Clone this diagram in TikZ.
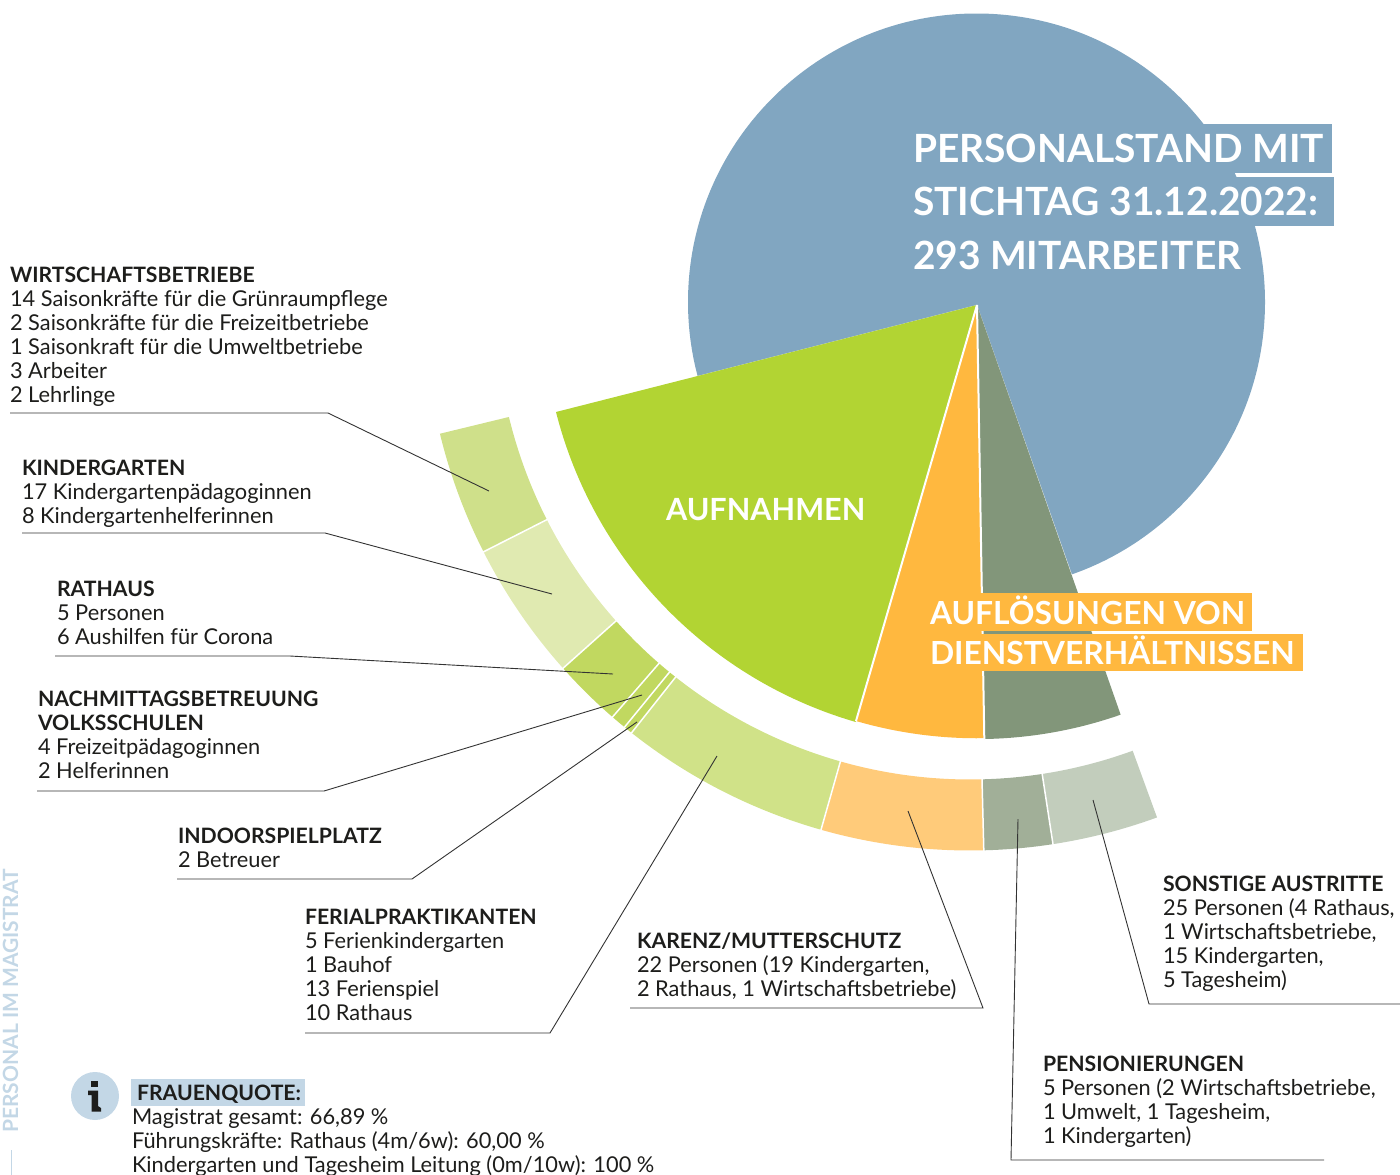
\documentclass[tikz,border=0pt]{standalone}
\usepackage{fontspec}
\usetikzlibrary{calc}
\setmainfont{Lato}
\definecolor{cblue}{HTML}{81A6C1}
\definecolor{cgreen}{HTML}{B2D433}
\definecolor{corange}{HTML}{FFB83F}
\definecolor{cdark}{HTML}{82967A}
\definecolor{rwirt}{HTML}{CFE08A}
\definecolor{rkind}{HTML}{E0EAB1}
\definecolor{rrath}{HTML}{C1D860}
\definecolor{rferi}{HTML}{D0E288}
\definecolor{rkare}{HTML}{FFCB7A}
\definecolor{rpens}{HTML}{A1AF98}
\definecolor{rsons}{HTML}{C2CDBC}
\definecolor{cinfo}{HTML}{C3D7E6}
\definecolor{ctext}{HTML}{1D1D1B}
\tikzset{
  lbl/.style={inner sep=0pt,outer sep=0pt,anchor=north west,align=left,text=ctext,font=\fontsize{21.8}{24}\selectfont},
  leader/.style={draw=black!80,line width=0.9pt},
  title/.style={inner sep=0pt,outer sep=0pt,anchor=north west,align=left,text=white},
}
\newcommand{\hd}[1]{{\fontsize{21.2}{24}\selectfont\bfseries #1}}
\begin{document}
\begin{tikzpicture}[x=1pt,y=-1pt]
\useasboundingbox (0,0) rectangle (1400,1175);
% big blue disc
\fill[cblue] (976.5,302) circle[radius=288.5];
% highlight boxes of title
\fill[cblue] (910,123.5) rectangle (1332,172.8);
\fill[cblue] (910,177) rectangle (1334,226);
% wedges
\fill[white] (977,305) -- (556,412) arc[start angle=165.75,end angle=70.7,radius=434] -- (1121,714) -- cycle;
\fill[cgreen] (977,305) -- (556,412) arc[start angle=165.75,end angle=106.2,radius=434] -- cycle;
\fill[corange] (977,305) -- (856,721) arc[start angle=106.2,end angle=89.1,radius=434] -- cycle;
\fill[cdark] (977,305) -- (984,739) arc[start angle=89.1,end angle=70.7,radius=434] -- cycle;
\draw[white,line width=2pt] (977,305) -- (856,721);
\draw[white,line width=2pt] (977,305) -- (984.3,739);
% ring segments
\foreach \a/\b/\c in {193.65/206.9/rwirt,206.9/221.75/rkind,221.75/229.05/rrath,229.05/230.7/rrath,230.7/231.65/rrath,231.65/254.15/rferi,254.15/271.45/rkare,271.45/278.75/rpens,278.75/290.05/rsons}{
  \pgfmathsetmacro{\pa}{360-\a}\pgfmathsetmacro{\pb}{360-\b}
  \fill[\c] ($(970,305)+(\pa:474.5)$) arc[start angle=\pa,end angle=\pb,radius=474.5]
     -- ($(970,305)+(\pb:545.5)$) arc[start angle=\pb,end angle=\pa,radius=545.5] -- cycle;
}
\foreach \a in {206.9,221.75,229.05,230.7,231.65,254.15,271.45,278.75}{
  \pgfmathsetmacro{\pa}{360-\a}
  \draw[white,line width=1.5pt] ($(970,305)+(\pa:473)$) -- ($(970,305)+(\pa:547)$);
}
% highlight boxes of exit label
\fill[corange] (926,593.3) rectangle (1252,631);
\fill[corange] (926,633.7) rectangle (1303,670.7);
\fill[cinfo] (131,1079) rectangle (305,1106);
% titles
\node[title,font=\fontsize{38.9}{53.5}\selectfont\bfseries] (ttl) at (913,134) {PERSONALSTAND MIT\\STICHTAG 31.12.2022:\\293 MITARBEITER};
\node[title,anchor=west,font=\fontsize{30.6}{36}\selectfont\bfseries] (auf) at (666,510) {AUFNAHMEN};
\node[title,font=\fontsize{31.8}{40}\selectfont\bfseries] (exit) at (930,596) {AUFLÖSUNGEN VON\\DIENSTVERHÄLTNISSEN};
% labels
\node[lbl] (wi) at (10,267) {\hd{WIRTSCHAFTSBETRIEBE}\\14 Saisonkräfte für die Grünraumpflege\\2 Saisonkräfte für die Freizeitbetriebe\\1 Saisonkraft für die Umweltbetriebe\\3 Arbeiter\\2 Lehrlinge};
\node[lbl] (ki) at (22,460) {\hd{KINDERGARTEN}\\17 Kindergartenpädagoginnen\\8 Kindergartenhelferinnen};
\node[lbl] (ra) at (57,581) {\hd{RATHAUS}\\5 Personen\\6 Aushilfen für Corona};
\node[lbl] (na) at (38,691) {\hd{NACHMITTAGSBETREUUNG}\\\hd{VOLKSSCHULEN}\\4 Freizeitpädagoginnen\\2 Helferinnen};
\node[lbl] (in) at (178,828) {\hd{INDOORSPIELPLATZ}\\2 Betreuer};
\node[lbl] (fe) at (305,909) {\hd{FERIALPRAKTIKANTEN}\\5 Ferienkindergarten\\1 Bauhof\\13 Ferienspiel\\10 Rathaus};
\node[lbl] (ka) at (637,933) {\hd{KARENZ/MUTTERSCHUTZ}\\22 Personen (19 Kindergarten,\\2 Rathaus, 1 Wirtschaftsbetriebe)};
\node[lbl] (pe) at (1043,1056) {\hd{PENSIONIERUNGEN}\\5 Personen (2 Wirtschaftsbetriebe,\\1 Umwelt, 1 Tagesheim,\\1 Kindergarten)};
\node[lbl] (so) at (1163,876) {\hd{SONSTIGE AUSTRITTE}\\25 Personen (4 Rathaus,\\1 Wirtschaftsbetriebe,\\15 Kindergarten,\\5 Tagesheim)};
\node[lbl] (fq) at (137,1085) {\hd{FRAUENQUOTE:}};
\node[lbl] (fr) at (132,1109) {Magistrat gesamt: 66,89 \%\\Führungskräfte: Rathaus (4m/6w): 60,00 \%\\Kindergarten und Tagesheim Leitung (0m/10w): 100 \%};
% leaders
\coordinate (w0) at (10,413); \coordinate (w1) at (328,413); \coordinate (w2) at (489,491);
\coordinate (k0) at (22,533); \coordinate (k1) at (325,533); \coordinate (k2) at (552,594);
\coordinate (r0) at (55,656); \coordinate (r1) at (290,656); \coordinate (r2) at (613,674);
\coordinate (n0) at (37,791); \coordinate (n1) at (324,791); \coordinate (n2) at (642,695);
\coordinate (i0) at (177,879); \coordinate (i1) at (412,879); \coordinate (i2) at (637,722);
\coordinate (f0) at (305,1033); \coordinate (f1) at (550,1033); \coordinate (f2) at (717,756);
\coordinate (c0) at (630,1008); \coordinate (c1) at (983,1008); \coordinate (c2) at (908,811);
\coordinate (p0) at (1324,1160); \coordinate (p1) at (1011,1160); \coordinate (p2) at (1018,819);
\coordinate (s0) at (1400,1004); \coordinate (s1) at (1149,1004); \coordinate (s2) at (1093,800);
\draw[leader] (w0) -- (w1) -- (w2);
\draw[leader] (k0) -- (k1) -- (k2);
\draw[leader] (r0) -- (r1) -- (r2);
\draw[leader] (n0) -- (n1) -- (n2);
\draw[leader] (i0) -- (i1) -- (i2);
\draw[leader] (f0) -- (f1) -- (f2);
\draw[leader] (c0) -- (c1) -- (c2);
\draw[leader] (p0) -- (p1) -- (p2);
\draw[leader] (s0) -- (s1) -- (s2);
% info icon
\node[circle,fill=cinfo,minimum size=48pt,inner sep=0pt] (ic) at (95,1096) {};
\fill[ctext] (91,1080.5) rectangle (98,1087);
\fill[ctext] (88,1090.5) -- (98,1090.5) -- (98,1106) -- (101,1108) -- (101,1111.5) -- (91.5,1111.5) -- (91.5,1095) -- (88,1095) -- cycle;
% side text
\node[rotate=90,anchor=base west,inner sep=0pt,text=cinfo,font=\fontsize{21}{24}\selectfont\bfseries] (side) at (18,1133) {PERSONAL IM MAGISTRAT};
\draw[cinfo,line width=1pt] (11,1150) -- (11,1175);
\end{tikzpicture}
\end{document}
